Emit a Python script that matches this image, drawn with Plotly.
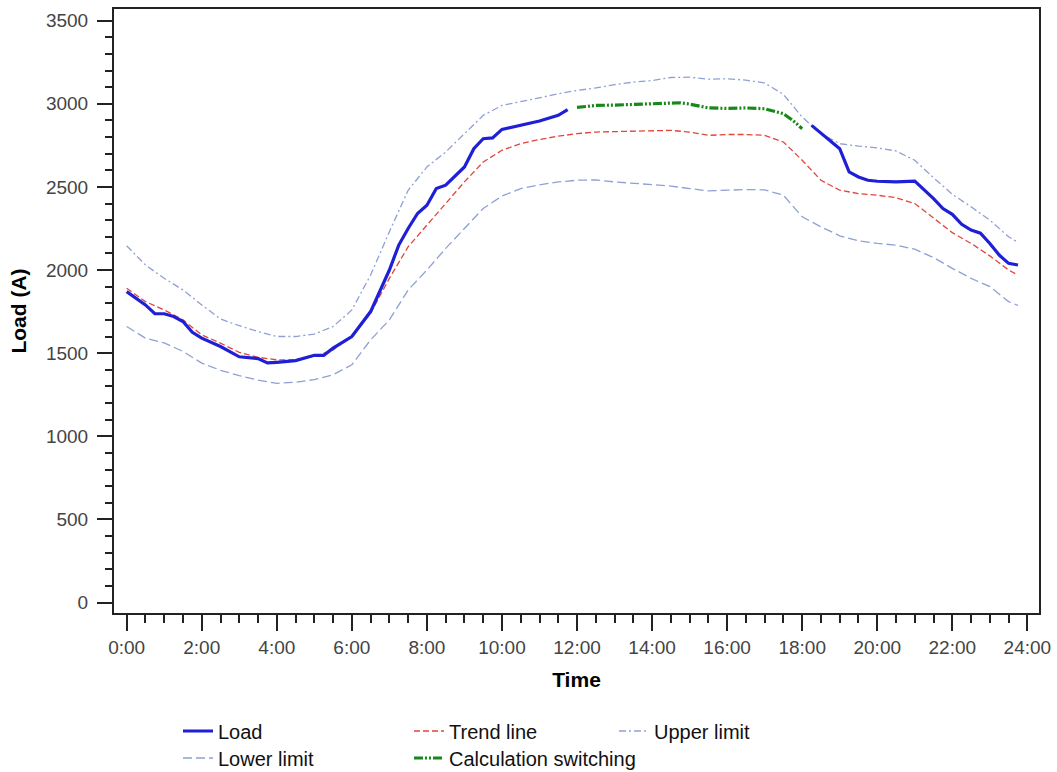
import plotly.graph_objects as go

# ---------------- data (hours of day, load in A) ----------------
band_hours = [0, 0.5, 1, 1.5, 2, 2.5, 3, 3.5, 4, 4.5, 5, 5.5, 6, 6.5, 7, 7.5, 8, 8.5,
              9, 9.5, 10, 10.5, 11, 11.5, 12, 12.5, 13, 13.5, 14, 14.5, 15, 15.5,
              16, 16.5, 17, 17.5, 18, 18.5, 19, 19.5, 20, 20.5, 21, 21.5, 22, 22.5,
              23, 23.5, 23.75]

trend = [1890, 1810, 1760, 1700, 1610, 1560, 1505, 1475, 1460, 1460, 1480, 1520,
         1600, 1740, 1950, 2140, 2270, 2400, 2530, 2650, 2720, 2760, 2785, 2805,
         2820, 2830, 2832, 2835, 2835, 2840, 2830, 2810, 2815, 2815, 2810, 2770,
         2660, 2540, 2480, 2460, 2450, 2435, 2400, 2310, 2225, 2160, 2085, 2000, 1970]

upper = [2146, 2030, 1950, 1880, 1790, 1705, 1665, 1630, 1600, 1600, 1615, 1660,
         1760, 1970, 2230, 2480, 2620, 2710, 2820, 2930, 2990, 3015, 3036, 3060,
         3080, 3095, 3115, 3130, 3140, 3158, 3160, 3148, 3150, 3142, 3125, 3056,
         2920, 2820, 2760, 2745, 2735, 2716, 2660, 2555, 2456, 2380, 2300, 2200, 2166]

lower = [1660, 1590, 1562, 1510, 1440, 1397, 1365, 1338, 1318, 1325, 1341, 1370,
         1430, 1580, 1700, 1880, 2000, 2130, 2250, 2370, 2445, 2490, 2512, 2530,
         2540, 2542, 2530, 2522, 2515, 2505, 2490, 2476, 2480, 2484, 2482, 2450,
         2320, 2260, 2206, 2175, 2160, 2150, 2125, 2075, 2010, 1950, 1900, 1810, 1787]

load_am_hours = [0, 0.25, 0.5, 0.75, 1, 1.25, 1.5, 1.75, 2, 2.5, 3, 3.5, 3.75, 4,
                 4.5, 5, 5.25, 5.5, 6, 6.5, 7, 7.25, 7.5, 7.75, 8, 8.25, 8.5, 9,
                 9.25, 9.5, 9.75, 10, 10.5, 11, 11.5, 11.75]
load_am = [1870, 1830, 1790, 1737, 1737, 1720, 1690, 1625, 1590, 1540, 1478, 1467,
           1441, 1445, 1455, 1487, 1487, 1530, 1600, 1750, 2000, 2150, 2250, 2340,
           2390, 2490, 2510, 2620, 2730, 2790, 2795, 2846, 2870, 2896, 2930, 2965]

switch_hours = [12, 12.5, 13, 13.5, 14, 14.5, 14.75, 15, 15.5, 16, 16.5, 17, 17.5,
                17.75, 18]
switch_load = [2978, 2990, 2992, 2996, 3000, 3005, 3006, 2998, 2975, 2972, 2975,
               2970, 2940, 2900, 2850]

load_pm_hours = [18.25, 18.5, 18.75, 19, 19.25, 19.5, 19.75, 20, 20.5, 21, 21.5,
                 21.75, 22, 22.25, 22.5, 22.75, 23, 23.25, 23.5, 23.75]
load_pm = [2870, 2825, 2780, 2730, 2590, 2560, 2540, 2534, 2530, 2535, 2430, 2370,
           2335, 2275, 2240, 2222, 2160, 2090, 2040, 2030]

tick_hours = [0, 2, 4, 6, 8, 10, 12, 14, 16, 18, 20, 22, 24]
tick_labels = ["0:00", "2:00", "4:00", "6:00", "8:00", "10:00", "12:00",
               "14:00", "16:00", "18:00", "20:00", "22:00", "24:00"]

# ---------------- styles ----------------
C_LOAD = "#1f1fd6"
C_TREND = "#e2453c"
C_LIM = "#8fa0d4"
C_SWITCH = "#17891a"
FONT = "Liberation Sans, Arial, sans-serif"

fig = go.Figure()

fig.add_trace(go.Scatter(x=band_hours, y=upper, mode="lines", name="Upper limit",
                         line=dict(color=C_LIM, width=1.3, dash="7px,3px,2px,3px"),
                         legend="legend3"))
fig.add_trace(go.Scatter(x=band_hours, y=lower, mode="lines", name="Lower limit",
                         line=dict(color=C_LIM, width=1.3, dash="9px,4px"),
                         legend="legend4"))
fig.add_trace(go.Scatter(x=band_hours, y=trend, mode="lines", name="Trend line",
                         line=dict(color=C_TREND, width=1.3, dash="6px,3px"),
                         legend="legend2"))
fig.add_trace(go.Scatter(x=load_am_hours, y=load_am, mode="lines", name="Load",
                         line=dict(color=C_LOAD, width=3.2), legendgroup="load",
                         legend="legend"))
fig.add_trace(go.Scatter(x=load_pm_hours, y=load_pm, mode="lines", name="Load",
                         line=dict(color=C_LOAD, width=3.2), legendgroup="load",
                         showlegend=False, legend="legend"))
fig.add_trace(go.Scatter(x=switch_hours, y=switch_load, mode="lines",
                         name="Calculation switching",
                         line=dict(color=C_SWITCH, width=3.2,
                                   dash="9px,2px,2px,2px,2px,2px"),
                         legend="legend5"))

PLOT_L, PLOT_R, PLOT_T, PLOT_B = 114, 1039, 9, 613
W, H = 1057, 772


def px_x(p):
    return (p - PLOT_L) / (PLOT_R - PLOT_L)


def px_y(p):
    return (PLOT_B - p) / (PLOT_B - PLOT_T)


def leg(xpx, ypx):
    return dict(x=px_x(xpx), y=px_y(ypx), xanchor="left", yanchor="middle",
                orientation="v", bgcolor="rgba(0,0,0,0)", borderwidth=0,
                itemwidth=30, font=dict(family=FONT, size=20, color="#111111"))


fig.update_layout(
    width=W, height=H,
    margin=dict(l=PLOT_L, r=W - PLOT_R, t=PLOT_T, b=H - PLOT_B, autoexpand=False),
    paper_bgcolor="white", plot_bgcolor="white",
    font=dict(family=FONT, color="#222222"),
    legend=leg(178, 731),
    legend2=leg(409, 731),
    legend3=leg(614, 731),
    legend4=leg(178, 758),
    legend5=leg(409, 758),
)

fig.update_xaxes(
    range=[-0.338, 24.31], tickmode="array", tickvals=tick_hours, ticktext=tick_labels,
    ticks="outside", ticklen=16, tickwidth=1.6, tickcolor="#222222",
    minor=dict(tickmode="linear", tick0=0, dtick=0.5, ticks="outside", ticklen=8,
               tickwidth=1.6, tickcolor="#222222", showgrid=False),
    showgrid=False, zeroline=False, showline=True, linecolor="#222222", linewidth=2,
    mirror=True,
    tickfont=dict(family=FONT, size=19, color="#444444"),
    title=dict(text="<b>Time</b>", font=dict(family=FONT, size=21, color="#000000"),
               standoff=16),
)
fig.update_yaxes(
    range=[-63, 3570], tickmode="linear", tick0=0, dtick=500,
    ticks="outside", ticklen=15, tickwidth=1.6, tickcolor="#222222",
    minor=dict(tickmode="linear", tick0=0, dtick=100, ticks="outside", ticklen=7,
               tickwidth=1.6, tickcolor="#222222", showgrid=False),
    showgrid=False, zeroline=False, showline=True, linecolor="#222222", linewidth=2,
    mirror=True, ticklabelstandoff=5,
    tickfont=dict(family=FONT, size=19, color="#444444"),
    title=dict(text="<b>Load (A)</b>", font=dict(family=FONT, size=21, color="#000000"),
               standoff=14),
)

fig.write_html("out.html")
